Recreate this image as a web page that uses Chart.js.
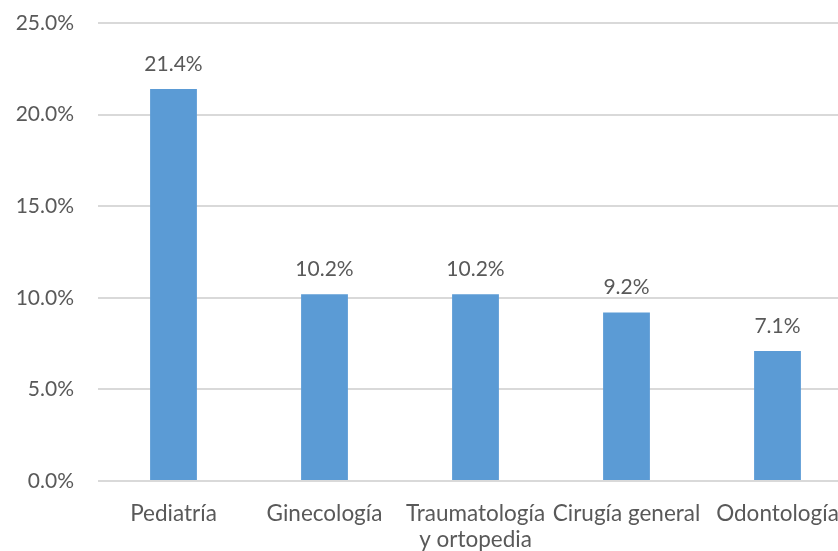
<!DOCTYPE html>
<html>
<head>
<meta charset="utf-8">
<script src="https://cdn.jsdelivr.net/npm/chart.js"></script>
<style>
  html, body { margin: 0; padding: 0; background: #fff; overflow: hidden; }
  #wrap { width: 860px; height: 551px; }
</style>
</head>
<body>
<div id="wrap"><canvas id="chart" width="860" height="551"></canvas></div>
<script>
// servicios y porcentajes
const categories = ["Pediatría", "Ginecología", ["Traumatología", "y ortopedia"], "Cirugía general", "Odontología"];
const percentValues = [21.4, 10.2, 10.2, 9.2, 7.1];
const yTicks = [0, 5, 10, 15, 20, 25];

const FONT = "Lato, 'Open Sans', sans-serif";
const TEXT = "#595959";

// etiquetas de valor encima de cada barra
const barLabels = {
  id: "barLabels",
  afterDatasetsDraw(chart) {
    const ctx = chart.ctx;
    const meta = chart.getDatasetMeta(0);
    ctx.save();
    ctx.font = "21px " + FONT;
    ctx.fillStyle = TEXT;
    ctx.textAlign = "center";
    ctx.textBaseline = "alphabetic";
    meta.data.forEach((bar, i) => {
      ctx.fillText(percentValues[i].toFixed(1) + "%", bar.x, bar.y - 18);
    });
    ctx.restore();
  }
};

new Chart(document.getElementById("chart"), {
  type: "bar",
  data: {
    labels: categories,
    datasets: [{
      data: percentValues,
      backgroundColor: "#5B9BD5",
      categoryPercentage: 1,
      barPercentage: 0.31
    }]
  },
  options: {
    responsive: false,
    animation: false,
    layout: { padding: { left: 0, right: 7, top: 23, bottom: 0 } },
    plugins: { legend: { display: false }, tooltip: { enabled: false } },
    scales: {
      x: {
        grid: { display: false },
        border: { display: false },
        afterFit(scale) { scale.height = 70; },
        ticks: { color: TEXT, font: { family: FONT, size: 22.5, lineHeight: 1.15 }, padding: 12, maxRotation: 0, autoSkip: false }
      },
      y: {
        min: 0,
        max: 25,
        afterBuildTicks(axis) { axis.ticks = yTicks.map(v => ({ value: v })); },
        afterFit(scale) {
          scale.width = 98;
          scale.paddingTop = 0;
          scale.paddingBottom = 0;
        },
        grid: { color: "#D9D9D9", lineWidth: 2, drawTicks: false },
        border: { display: false },
        ticks: {
          color: TEXT,
          font: { family: FONT, size: 21 },
          padding: 24,
          callback: v => v.toFixed(1) + "%"
        }
      }
    }
  },
  plugins: [barLabels]
});
</script>
</body>
</html>
